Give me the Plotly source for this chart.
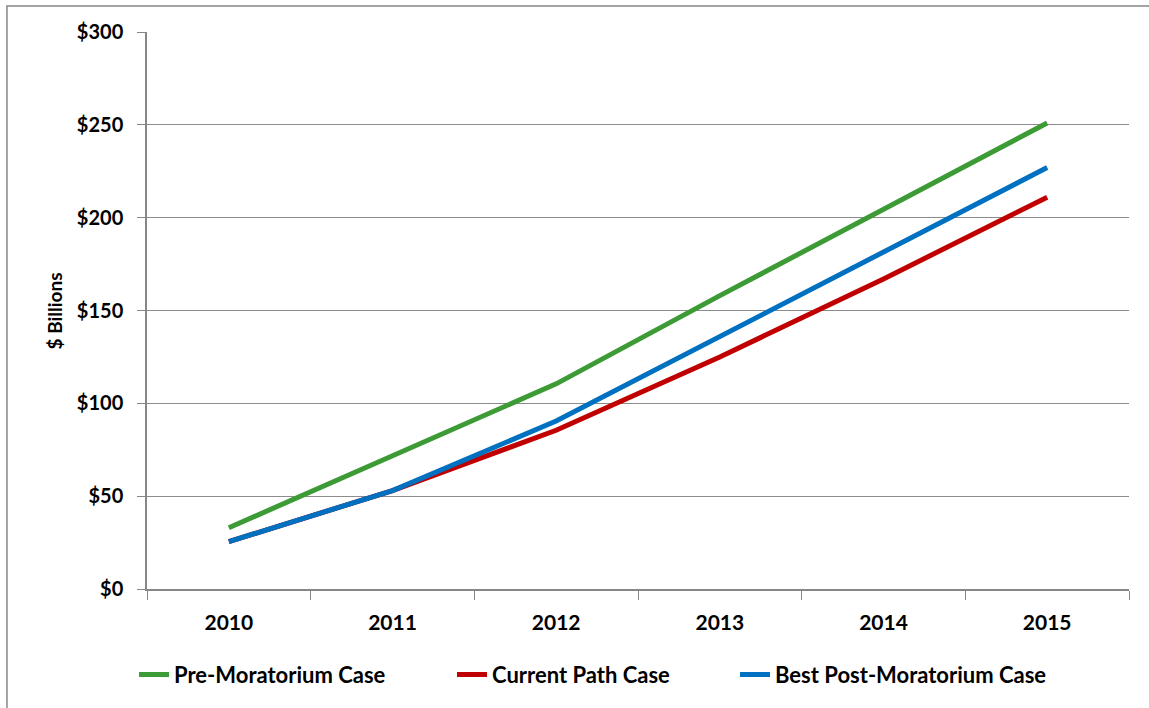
import plotly.graph_objects as go

years = ["2010", "2011", "2012", "2013", "2014", "2015"]
pre_moratorium = [33, 72, 110.5, 158, 204.5, 251]
current_path = [25.5, 53, 85.5, 125, 167, 211]
best_post_moratorium = [25.5, 53, 90.5, 136, 181, 227]

# name, values, colour, legend id, legend x (paper)
series = [
    ("Pre-Moratorium Case", pre_moratorium, "#3D9B35", "legend", -0.0132),
    ("Current Path Case", current_path, "#C00000", "legend2", 0.3106),
    ("Best Post-Moratorium Case", best_post_moratorium, "#0070C0", "legend3", 0.5988),
]

FONT = "Lato, 'Open Sans', sans-serif"
AXIS_GREY = "#878787"

fig = go.Figure()
legend_layout = {}
for name, vals, color, leg, lx in series:
    fig.add_trace(go.Scatter(
        x=years, y=vals, name=name, mode="lines",
        line=dict(color=color, width=5), legend=leg,
    ))
    legend_layout[leg] = dict(
        orientation="h", x=lx, y=-0.1538, xanchor="left", yanchor="middle",
        font=dict(family=FONT, size=22, color="black", weight="bold"),
        bgcolor="rgba(0,0,0,0)",
    )

fig.update_layout(
    width=1149, height=708,
    margin=dict(l=147, r=20, t=32, b=117),
    paper_bgcolor="white", plot_bgcolor="white",
    font=dict(family=FONT, color="black"),
    showlegend=True,
    xaxis=dict(
        type="category", tickson="boundaries", ticks="outside", ticklen=9,
        tickcolor=AXIS_GREY, showline=True, linecolor=AXIS_GREY, linewidth=1.5,
        showgrid=False, range=[-0.5, 5.5], ticklabelstandoff=14,
        tickfont=dict(family=FONT, size=21, color="black", weight="bold"),
    ),
    yaxis=dict(
        range=[0, 300], dtick=50, tickprefix="$", ticks="outside", ticklen=8,
        tickcolor=AXIS_GREY, showline=True, linecolor=AXIS_GREY, linewidth=1.5,
        showgrid=True, gridcolor="#8c8c8c", gridwidth=1.2, zeroline=False,
        tickfont=dict(family=FONT, size=20, color="black", weight="bold"),
        ticklabelstandoff=10,
    ),
    annotations=[dict(
        text="$ Billions", xref="paper", yref="paper", x=-0.0937, y=0.5,
        textangle=-90, showarrow=False, xanchor="center", yanchor="middle",
        font=dict(family=FONT, size=19, color="black", weight="bold"),
    )],
    shapes=[dict(
        type="rect", xref="paper", yref="paper",
        x0=-0.1426, y0=-0.22, x1=1.06, y1=1.0465,
        line=dict(color=AXIS_GREY, width=1.5), layer="below",
    )],
    **legend_layout,
)

fig.write_html("out.html")
